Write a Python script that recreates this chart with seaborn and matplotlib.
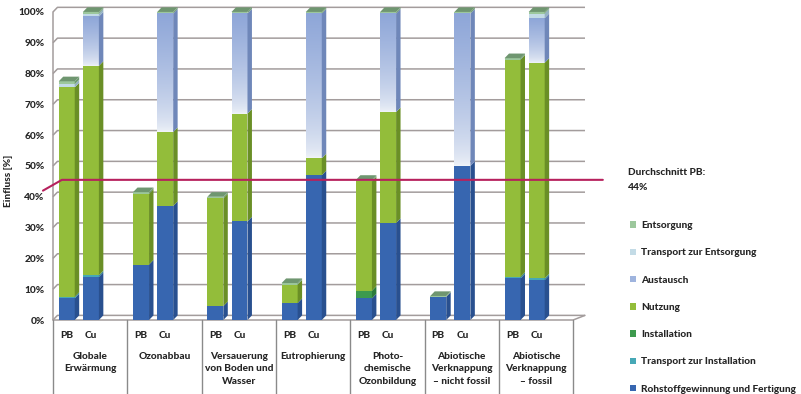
import numpy as np
import pandas as pd
import matplotlib
matplotlib.use("Agg")
import matplotlib.pyplot as plt
import matplotlib.transforms as mtransforms
from matplotlib.patches import Polygon, Patch
from matplotlib.colors import to_rgb
import seaborn as sns

# ---------------------------------------------------------------- data
categories = [
    "Globale\nErwärmung",
    "Ozonabbau",
    "Versauerung\nvon Boden und\nWasser",
    "Eutrophierung",
    "Photo-\nchemische\nOzonbildung",
    "Abiotische\nVerknappung\n– nicht fossil",
    "Abiotische\nVerknappung\n– fossil",
]
variants = ["PB", "Cu"]
phases = [
    "Rohstoffgewinnung und Fertigung",
    "Transport zur Installation",
    "Installation",
    "Nutzung",
    "Austausch",
    "Transport zur Entsorgung",
    "Entsorgung",
]

# shares in %, order: (cat0 PB, cat0 Cu, cat1 PB, cat1 Cu, ...)
rohstoff       = [7.0, 14.0, 18.0, 37.0, 4.5, 32.0, 5.5, 47.0, 7.0, 31.5, 7.5, 50.0, 13.5, 13.0]
transport_inst = [0.5, 0.5, 0.0, 0.0, 0.0, 0.0, 0.0, 0.0, 0.0, 0.0, 0.0, 0.0, 0.5, 0.5]
installation   = [0.0, 0.0, 0.0, 0.0, 0.0, 0.0, 0.0, 0.0, 2.5, 0.0, 0.0, 0.0, 0.0, 0.0]
nutzung        = [68.0, 68.0, 23.0, 24.0, 35.0, 35.0, 6.0, 5.5, 35.5, 36.0, 0.0, 0.0, 70.5, 70.0]
austausch      = [0.0, 16.0, 0.0, 38.5, 0.0, 32.5, 0.0, 47.0, 0.0, 32.0, 0.0, 49.5, 0.0, 14.5]
transport_ents = [1.0, 1.0, 0.0, 0.0, 0.0, 0.0, 0.0, 0.0, 0.0, 0.0, 0.0, 0.0, 0.0, 1.5]
entsorgung     = [1.0, 0.5, 0.5, 0.5, 0.5, 0.5, 0.5, 0.5, 0.5, 0.5, 0.3, 0.5, 0.5, 0.5]

AVG_PB = 44
y_ticks = list(range(0, 101, 10))

# ---------------------------------------------------------------- style
front_colors = ["#3766b0", "#46a8b6", "#3d9a4e", "#93bd3a", "#9fb4de", "#c3dbe6", "#9cc79c"]
side_colors  = ["#29508f", "#2f8592", "#2b7a3a", "#6a8f26", "#6f87b9", "#95b3c2", "#6f9b72"]
cap_color = "#6f9670"
grid_color = "#a39c9c"
text_color = "#262626"
avg_color = "#b7215d"

sns.set_theme(style="white")
plt.rcParams["font.family"] = ["Lato", "DejaVu Sans"]
FW = 900
plt.rcParams["font.weight"] = FW
FS = 7.3

# ---------------------------------------------------------------- table
offsets = {"PB": 0.185, "Cu": 0.51}
positions, cat_idx, var_names = [], [], []
for i, _ in enumerate(categories):
    for v in variants:
        positions.append(i + offsets[v])
        cat_idx.append(i)
        var_names.append(v)

series = [rohstoff, transport_inst, installation, nutzung, austausch, transport_ents, entsorgung]
df = pd.DataFrame({"pos": positions, "cat": cat_idx, "variant": var_names})
for name, vals in zip(phases, series):
    df[name] = vals
cum = df[phases].cumsum(axis=1)

fig = plt.figure(figsize=(8.01, 3.94), dpi=100)
ax = fig.add_axes([53 / 801, 74 / 394, 532 / 801, 314.2 / 394])

bar_w = 0.215
native = offsets["Cu"] - offsets["PB"]
dx, dy = 0.06, 1.5   # depth of the pseudo-3D faces (data units)

# back-wall grid
xmax = 7.16
for v in y_ticks:
    ax.plot([0, dx, xmax], [v, v + dy, v + dy], color=grid_color, lw=1.1, zorder=0.5,
            solid_capstyle="butt", clip_on=False)
ax.plot([0, 0], [0, 100], color=grid_color, lw=1.1, zorder=0.6, clip_on=False)
# floor
ax.plot([0, 7, xmax], [0, 0, dy], color=grid_color, lw=1.1, zorder=0.6, clip_on=False)

# stacked bars: cumulative totals, drawn from the top layer down
geom = {}
for k in reversed(range(len(phases))):
    before = len(ax.patches)
    sns.barplot(x=df["pos"], y=cum[phases[k]], orient="x", native_scale=True,
                width=bar_w / native, color=front_colors[k], saturation=1,
                linewidth=0, errorbar=None, ax=ax)
    new = ax.patches[before:]
    for p in new:
        geom[round(p.get_x() + p.get_width() / 2, 3)] = (p.get_x(), p.get_width())
    if phases[k] == "Austausch":
        top_c = np.array(to_rgb("#8ea6d8"))
        bot_c = np.array(to_rgb("#f2f5f9"))
        t = np.linspace(0, 1, 200) ** 0.6
        img = (bot_c[None, :] * (1 - t[:, None]) + top_c[None, :] * t[:, None])[:, None, :]
        for p in new:
            c = round(p.get_x() + p.get_width() / 2, 3)
            row = df.loc[(df["pos"].round(3) == c)].index[0]
            if df.loc[row, "Austausch"] <= 0:
                continue
            lo = cum.loc[row, "Nutzung"]
            hi = cum.loc[row, "Austausch"]
            ax.imshow(img, extent=[p.get_x(), p.get_x() + p.get_width(), lo, hi],
                      origin="lower", aspect="auto", zorder=1, interpolation="bilinear")

# side faces and top caps
for row in df.index:
    c = round(df.loc[row, "pos"], 3)
    x0, w = geom[c]
    x1 = x0 + w
    bottom = 0.0
    for k, name in enumerate(phases):
        val = df.loc[row, name]
        if val > 0:
            top = bottom + val
            ax.add_patch(Polygon([(x1, bottom), (x1 + dx, bottom + dy),
                                  (x1 + dx, top + dy), (x1, top)],
                                 closed=True, facecolor=side_colors[k], lw=0, zorder=2))
            bottom = top
    ax.add_patch(Polygon([(x0, bottom), (x0 + dx, bottom + dy),
                          (x1 + dx, bottom + dy), (x1, bottom)],
                         closed=True, facecolor=cap_color, lw=0, zorder=2))

# average line of PB
ax.plot([-0.135, dx + 0.06, 7.4], [AVG_PB - 2, AVG_PB + dy, AVG_PB + dy],
        color=avg_color, lw=1.5, zorder=5, clip_on=False)

ax.set_xlim(0, xmax)
ax.set_ylim(0, 102)
for s in ax.spines.values():
    s.set_visible(False)
ax.grid(False)

ax.set_yticks(y_ticks)
ax.set_yticklabels([f"{v}%" for v in y_ticks], fontsize=FS, fontweight=FW, color=text_color)
ax.set_xticks(df["pos"])
ax.set_xticklabels(df["variant"], fontsize=FS, fontweight=FW, color=text_color)
ax.tick_params(axis="both", length=0)
ax.tick_params(axis="y", pad=6)
ax.tick_params(axis="x", pad=8)
ax.set_xlabel("")
ax.set_ylabel("")

# category separators and names below the floor
trans = mtransforms.blended_transform_factory(ax.transData, ax.transAxes)
for i in range(len(categories) + 1):
    ax.plot([i, i], [0, -0.235], color="#8a8a8a", lw=1.0, transform=trans, clip_on=False)
for i, cat in enumerate(categories):
    ax.text(i + 0.5, -0.101, cat, transform=trans, ha="center", va="top",
            fontsize=FS, fontweight=FW, color=text_color, linespacing=1.5)

fig.text(9 / 801, 1 - 181 / 394, "Einfluss [%]", rotation=90, ha="center", va="center",
         fontsize=FS, fontweight=FW, color=text_color)

fig.text(628 / 801, 1 - 180 / 394, f"Durchschnitt PB:\n{AVG_PB}%", ha="left", va="center",
         fontsize=FS, fontweight=FW, color=text_color, linespacing=1.75)

handles = [Patch(facecolor=front_colors[k], edgecolor="none", label=phases[k])
           for k in reversed(range(len(phases)))]
fig.legend(handles=handles, loc="upper left", bbox_to_anchor=(621 / 801, 1 - 212 / 394),
           frameon=False, handlelength=0.6, handleheight=0.6,
           handletextpad=0.45, labelspacing=1.8, labelcolor=text_color,
           prop={"weight": FW, "size": FS})

fig.savefig("out.png", dpi=100, facecolor="white")
